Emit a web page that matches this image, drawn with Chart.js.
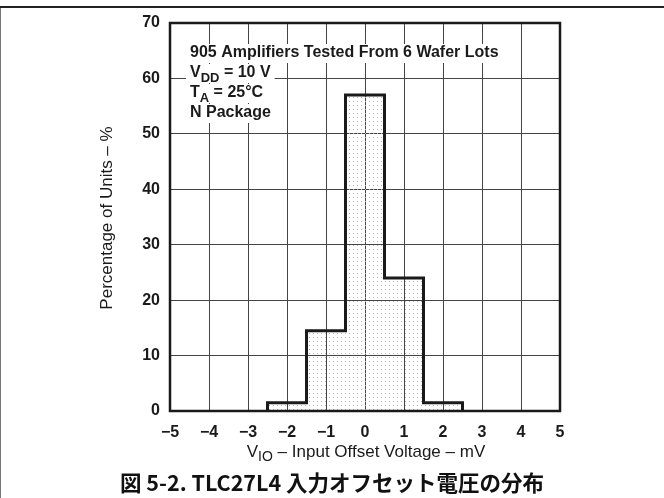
<!DOCTYPE html>
<html>
<head>
<meta charset="utf-8">
<script src="https://cdn.jsdelivr.net/npm/chart.js@4"></script>
<style>
  html, body { margin: 0; padding: 0; background: #fff; }
  canvas { display: block; }
</style>
</head>
<body>
<canvas id="chart" width="664" height="498"></canvas>
<script>
// ヒストグラムのデータ
const binEdges     = [-2.5, -1.5, -0.5, 0.5, 1.5, 2.5];
const percentUnits = [1.5, 14.5, 57, 24, 1.5];
const xRange = [-5, 5];
const yRange = [0, 70];

const noteLines = [
  [{ t: '905 Amplifiers Tested From 6 Wafer Lots' }],
  [{ t: 'V' }, { t: 'DD', sub: true }, { t: ' = 10 V' }],
  [{ t: 'T' }, { t: 'A', sub: true }, { t: ' = 25°C' }],
  [{ t: 'N Package' }],
];
const xTitle  = [{ t: 'V' }, { t: 'IO', sub: true }, { t: ' – Input Offset Voltage – mV' }];
const yTitle  = 'Percentage of Units – %';
const caption = '図 5-2. TLC27L4 入力オフセット電圧の分布';

const FONT = "'Liberation Sans', Arial, Helvetica, sans-serif";

// 階段状の外形ポイント
function histPoints() {
  const pts = [{ x: binEdges[0], y: 0 }];
  percentUnits.forEach((v, i) => pts.push({ x: binEdges[i], y: v }));
  pts.push({ x: binEdges[binEdges.length - 1], y: percentUnits[percentUnits.length - 1] });
  pts.push({ x: binEdges[binEdges.length - 1], y: 0 });
  return pts;
}

// 点描パターン
function dotPattern() {
  const c = document.createElement('canvas');
  c.width = 4; c.height = 4;
  const g = c.getContext('2d');
  g.fillStyle = '#b4b4b4';
  g.fillRect(1, 1, 1, 1);
  return document.getElementById('chart').getContext('2d').createPattern(c, 'repeat');
}

function richWidth(ctx, parts, size, weight) {
  let w = 0;
  parts.forEach(p => {
    ctx.font = `${weight} ${p.sub ? size - 3 : size}px ${FONT}`;
    w += ctx.measureText(p.t).width;
  });
  return w;
}

function drawRich(ctx, parts, x, y, size, weight) {
  let cx = x;
  parts.forEach(p => {
    ctx.font = `${weight} ${p.sub ? size - 3 : size}px ${FONT}`;
    ctx.fillText(p.t, cx, p.sub ? y + 5 : y);
    cx += ctx.measureText(p.t).width;
  });
}

const decorPlugin = {
  id: 'decor',
  beforeDraw(chart) {
    const ctx = chart.ctx;
    ctx.save();
    ctx.fillStyle = '#fff';
    ctx.fillRect(0, 0, chart.width, chart.height);
    ctx.restore();
  },
  afterDraw(chart) {
    const ctx = chart.ctx;
    const a = chart.chartArea;
    ctx.save();

    // プロット枠
    ctx.strokeStyle = '#1a1a1a';
    ctx.lineWidth = 2.5;
    ctx.strokeRect(a.left, a.top, a.right - a.left, a.bottom - a.top);

    // 注記（白背景）
    ctx.textBaseline = 'middle';
    noteLines.forEach((parts, i) => {
      const y = 53 + i * 20;
      const w = richWidth(ctx, parts, 16, 'bold');
      ctx.fillStyle = '#fff';
      ctx.fillRect(186, y - 9, w + 8, 19);
      ctx.fillStyle = '#1a1a1a';
      drawRich(ctx, parts, 190, y, 16, 'bold');
    });

    // X 軸タイトル
    const xw = richWidth(ctx, xTitle, 17, 'normal');
    ctx.fillStyle = '#1a1a1a';
    drawRich(ctx, xTitle, 366 - xw / 2, 452, 17, 'normal');

    // Y 軸タイトル
    ctx.save();
    ctx.translate(107, 218);
    ctx.rotate(-Math.PI / 2);
    ctx.textAlign = 'center';
    ctx.font = `normal 17px ${FONT}`;
    ctx.fillText(yTitle, 0, 0);
    ctx.restore();

    // 図番号
    ctx.textAlign = 'center';
    ctx.font = "bold 21.5px 'Noto Sans CJK JP', sans-serif";
    ctx.fillStyle = '#111';
    ctx.fillText(caption, 332, 483);

    // 外枠
    ctx.strokeStyle = '#222';
    ctx.lineWidth = 2;
    ctx.beginPath();
    ctx.moveTo(0, 7); ctx.lineTo(chart.width, 7);
    ctx.stroke();
    ctx.strokeStyle = '#777';
    ctx.lineWidth = 1;
    ctx.beginPath();
    ctx.moveTo(0.5, 8); ctx.lineTo(0.5, chart.height);
    ctx.stroke();

    ctx.restore();
  },
};

new Chart(document.getElementById('chart'), {
  type: 'line',
  data: {
    datasets: [{
      data: histPoints(),
      stepped: 'before',
      borderColor: '#1a1a1a',
      borderWidth: 3,
      borderJoinStyle: 'miter',
      pointRadius: 0,
      fill: 'origin',
      backgroundColor: dotPattern(),
    }],
  },
  options: {
    responsive: false,
    devicePixelRatio: 1,
    animation: false,
    layout: { padding: { top: 23, right: 104, left: 0, bottom: 0 } },
    plugins: { legend: { display: false }, tooltip: { enabled: false } },
    scales: {
      x: {
        type: 'linear', min: xRange[0], max: xRange[1],
        afterFit: s => { s.height = 87; },
        grid: { color: '#444', lineWidth: 1, drawTicks: false },
        border: { display: false },
        ticks: {
          stepSize: 1, padding: 12, color: '#1a1a1a',
          font: { family: FONT, size: 16, weight: 'bold' },
          callback: v => v < 0 ? '\u2212' + Math.abs(v) : String(v),
        },
      },
      y: {
        min: yRange[0], max: yRange[1],
        afterFit: s => { s.width = 170; },
        grid: { color: '#444', lineWidth: 1, drawTicks: false },
        border: { display: false },
        ticks: {
          stepSize: 10, padding: 10, color: '#1a1a1a',
          font: { family: FONT, size: 16, weight: 'bold' },
        },
      },
    },
  },
  plugins: [decorPlugin],
});
</script>
</body>
</html>
